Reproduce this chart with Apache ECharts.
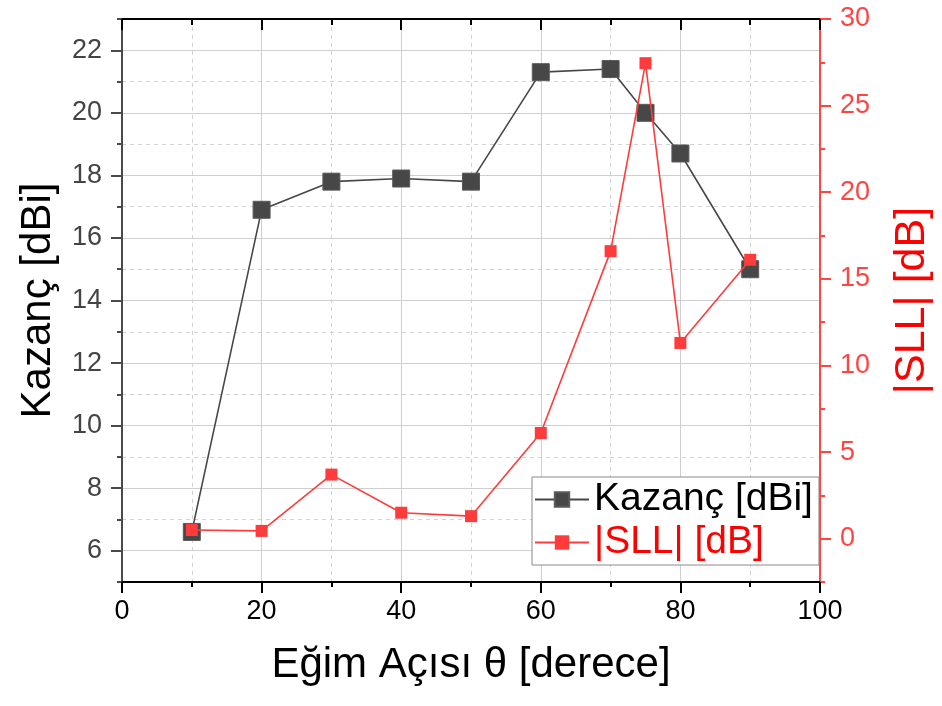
<!DOCTYPE html>
<html>
<head>
<meta charset="utf-8">
<script src="https://cdn.jsdelivr.net/npm/echarts@6/dist/echarts.min.js"></script>
<style>
  html, body { margin: 0; padding: 0; background: #fff; }
  #chart { width: 942px; height: 706px; }
</style>
</head>
<body>
<div id="chart"></div>
<script>
// Tilt angle (degrees) of each measurement
const angles = [10, 20, 30, 40, 50, 60, 70, 75, 80, 90];
// Gain in dBi
const gain = [6.6, 16.9, 17.8, 17.9, 17.8, 21.3, 21.4, 20.0, 18.7, 15.0];
// Absolute side-lobe level in dB
const sll = [0.5, 0.45, 3.7, 1.5, 1.3, 6.1, 16.6, 27.45, 11.3, 16.1];

// Labelled tick values
const gainLabels = [6, 8, 10, 12, 14, 16, 18, 20, 22];
const sllMajor = [0, 5, 10, 15, 20, 25, 30];
const sllMinor = [-2.5, 2.5, 7.5, 12.5, 17.5, 22.5, 27.5];

const FONT = 'Liberation Sans, Arial, sans-serif';
const RED = '#ff3b3b';
const AXIS_RED = '#ff4444';
const GRID_SOLID = '#cfcfcf';
const GRID_DASH = '#d2d2d2';

const chart = echarts.init(document.getElementById('chart'), null, { renderer: 'canvas' });

const xBase = { type: 'value', min: 0, max: 100, interval: 20 };
const sBase = { type: 'value', min: -2.5, max: 30, interval: 2.5 };

chart.setOption({
  animation: false,
  backgroundColor: '#fff',
  textStyle: { fontFamily: FONT },
  grid: { left: 122, right: 122, top: 19, bottom: 124, containLabel: false },
  xAxis: [
    Object.assign({}, xBase, {
      position: 'bottom',
      name: 'Eğim Açısı θ [derece]',
      nameLocation: 'middle',
      nameGap: 62,
      nameTextStyle: { fontSize: 42, color: '#000', fontFamily: FONT },
      axisLine: { show: true, onZero: false, lineStyle: { color: '#000', width: 2 } },
      axisTick: { show: true, inside: false, length: 11, lineStyle: { color: '#000', width: 2 } },
      minorTick: { show: true, splitNumber: 2, length: 5, lineStyle: { color: '#000', width: 2 } },
      axisLabel: { show: true, margin: 16, fontSize: 27, color: '#000', fontFamily: FONT },
      splitLine: { show: true, lineStyle: { color: GRID_SOLID, width: 1, type: 'solid' } },
      minorSplitLine: { show: true, lineStyle: { color: GRID_DASH, width: 1, type: [4, 4] } }
    }),
    Object.assign({}, xBase, {
      position: 'top',
      axisLine: { show: true, onZero: false, lineStyle: { color: '#000', width: 2 } },
      axisTick: { show: true, inside: true, length: 11, lineStyle: { color: '#000', width: 2 } },
      minorTick: { show: true, splitNumber: 2, length: 6, lineStyle: { color: '#000', width: 2 } },
      axisLabel: { show: false },
      splitLine: { show: false }
    })
  ],
  yAxis: [
    {
      // scale ticks fall on odd values (counted from min 5), minor ticks on even ones
      type: 'value', min: 5, max: 23, interval: 2,
      position: 'left',
      name: 'Kazanç [dBi]',
      nameLocation: 'middle',
      nameRotate: 90,
      nameGap: 63,
      nameTextStyle: { fontSize: 42, color: '#000', fontFamily: FONT },
      axisLine: { show: true, onZero: false, lineStyle: { color: '#4a4a4a', width: 2 } },
      axisTick: { show: true, inside: false, length: 5, lineStyle: { color: '#4a4a4a', width: 2 } },
      minorTick: { show: true, splitNumber: 2, length: 11, lineStyle: { color: '#4a4a4a', width: 2 } },
      axisLabel: { show: true, customValues: gainLabels, margin: 20, fontSize: 27, color: '#444', fontFamily: FONT },
      splitLine: { show: true, lineStyle: { color: GRID_DASH, width: 1, type: [4, 4] } },
      minorSplitLine: { show: true, lineStyle: { color: GRID_SOLID, width: 1, type: 'solid' } }
    },
    Object.assign({}, sBase, {
      position: 'right',
      name: '|SLL| [dB]',
      nameLocation: 'middle',
      nameRotate: 90,
      nameGap: 71,
      nameTextStyle: { fontSize: 43, color: '#ff0000', fontFamily: FONT },
      axisLine: { show: true, onZero: false, lineStyle: { color: AXIS_RED, width: 2 } },
      axisTick: { show: true, inside: false, length: 11, customValues: sllMajor, lineStyle: { color: AXIS_RED, width: 2 } },
      axisLabel: { show: true, customValues: sllMajor, margin: 20, fontSize: 27, color: AXIS_RED, fontFamily: FONT },
      splitLine: { show: false }
    }),
    Object.assign({}, sBase, {
      position: 'right',
      axisLine: { show: false, onZero: false },
      axisTick: { show: true, inside: false, length: 5, customValues: sllMinor, lineStyle: { color: AXIS_RED, width: 2 } },
      axisLabel: { show: false },
      splitLine: { show: false }
    })
  ],
  legend: {
    orient: 'vertical',
    left: 532,
    top: 477,
    width: 281,
    padding: [3, 6, 3, 2],
    itemGap: 4,
    itemWidth: 54,
    itemHeight: 18,
    backgroundColor: '#fff',
    borderColor: '#8a8a8a',
    borderWidth: 1,
    borderRadius: 0,
    textStyle: { fontSize: 39, fontFamily: FONT },
    data: [
      { name: 'Kazanç [dBi]', textStyle: { color: '#000' } },
      { name: '|SLL| [dB]', textStyle: { color: '#ff0000' } }
    ]
  },
  series: [
    {
      name: 'Kazanç [dBi]',
      type: 'line',
      xAxisIndex: 0,
      yAxisIndex: 0,
      data: angles.map((a, i) => [a, gain[i]]),
      symbol: 'rect',
      symbolSize: 17,
      showSymbol: true,
      itemStyle: { color: '#474747', borderColor: '#5a5a5a', borderWidth: 1 },
      lineStyle: { color: '#474747', width: 1.6 },
      z: 3
    },
    {
      name: '|SLL| [dB]',
      type: 'line',
      xAxisIndex: 0,
      yAxisIndex: 1,
      data: angles.map((a, i) => [a, sll[i]]),
      symbol: 'rect',
      symbolSize: 12,
      showSymbol: true,
      itemStyle: { color: RED },
      lineStyle: { color: RED, width: 1.6 },
      z: 4
    }
  ]
});
</script>
</body>
</html>
